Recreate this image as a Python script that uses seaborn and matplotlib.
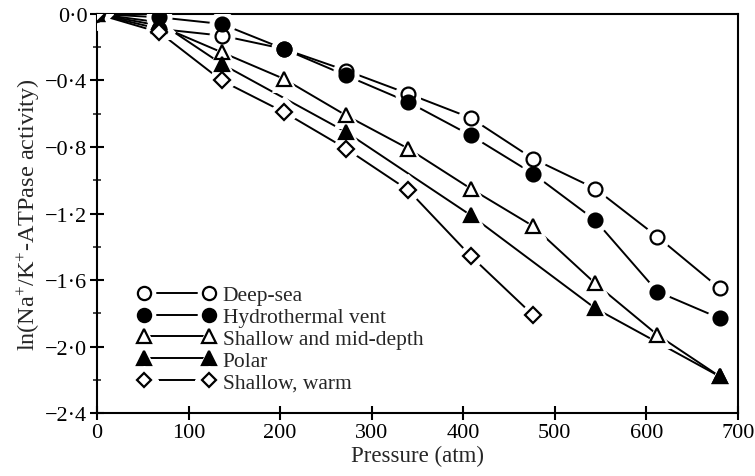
import matplotlib
matplotlib.use("Agg")
import matplotlib.pyplot as plt
from matplotlib.lines import Line2D
from matplotlib.legend_handler import HandlerTuple
from matplotlib.ticker import MultipleLocator, FixedLocator, FixedFormatter
import seaborn as sns
import pandas as pd

pressure = [0, 68, 136, 204, 272, 340, 408, 476, 544, 612, 680]
polar_pressure = [0, 68, 136, 272, 408, 544, 680]
warm_pressure = [0, 68, 136, 204, 272, 340, 408, 476]

deep_sea = [0.0, -0.09, -0.13, -0.21, -0.34, -0.48, -0.625, -0.87, -1.05, -1.34, -1.65]
hydrothermal = [0.0, -0.02, -0.06, -0.21, -0.37, -0.53, -0.73, -0.96, -1.24, -1.67, -1.83]
shallow_mid = [0.0, -0.07, -0.23, -0.39, -0.61, -0.81, -1.05, -1.275, -1.62, -1.93, -2.18]
polar = [0.0, -0.05, -0.30, -0.71, -1.21, -1.77, -2.18]
shallow_warm = [0.0, -0.11, -0.40, -0.59, -0.81, -1.06, -1.455, -1.81]

labels = ["Deep-sea", "Hydrothermal vent", "Shallow and mid-depth", "Polar", "Shallow, warm"]
yticks = [0.0, -0.4, -0.8, -1.2, -1.6, -2.0, -2.4]
ytick_labels = ["0·0", "−0·4", "−0·8", "−1·2", "−1·6", "−2·0", "−2·4"]
xticks = [0, 100, 200, 300, 400, 500, 600, 700]

series = [
    (labels[0], pressure, deep_sea, "o", "white", 10),
    (labels[1], pressure, hydrothermal, "o", "black", 10),
    (labels[2], pressure, shallow_mid, "^", "white", 10),
    (labels[3], polar_pressure, polar, "^", "black", 10),
    (labels[4], warm_pressure, shallow_warm, "D", "white", 8),
]

sns.set_style("ticks")
plt.rcParams["font.family"] = ["Liberation Serif", "DejaVu Serif"]
plt.rcParams["mathtext.fontset"] = "custom"
plt.rcParams["mathtext.rm"] = "Liberation Serif"
plt.rcParams["mathtext.it"] = "Liberation Serif:italic"
plt.rcParams["mathtext.bf"] = "Liberation Serif:bold"

fig = plt.figure(figsize=(7.55, 4.77), dpi=100)
ax = fig.add_axes([0.1285, 0.132, 0.849, 0.8366])

LW = 1.4
handles = []
for name, xs, ys, mk, fc, ms in series:
    df = pd.DataFrame({"x": xs, "y": ys})
    sns.lineplot(data=df, x="x", y="y", color="black", lw=LW, sort=False,
                 ax=ax, zorder=2, legend=False)
for name, xs, ys, mk, fc, ms in series:
    df = pd.DataFrame({"x": xs, "y": ys})
    sns.lineplot(data=df, x="x", y="y", color="white", lw=0, marker=mk,
                 markersize=ms + 8, markerfacecolor="white", markeredgecolor="white",
                 sort=False, ax=ax, zorder=3, legend=False)
for name, xs, ys, mk, fc, ms in series:
    df = pd.DataFrame({"x": xs, "y": ys})
    sns.lineplot(data=df, x="x", y="y", color="black", lw=0, marker=mk,
                 markersize=ms, markerfacecolor=fc, markeredgecolor="black",
                 markeredgewidth=1.6, sort=False, ax=ax, zorder=4, legend=False)
    h_line = Line2D([], [], color="black", lw=LW)
    h_halo = Line2D([], [], lw=0, marker=mk, markersize=ms + 6,
                    markerfacecolor="white", markeredgecolor="white")
    h_mk = Line2D([], [], lw=0, marker=mk, markersize=ms - 0.5, markerfacecolor=fc,
                  markeredgecolor="black", markeredgewidth=1.6)
    handles.append((h_line, h_halo, h_mk))

ax.set_xlim(0, 700)
ax.set_ylim(-2.4, 0.0)
ax.xaxis.set_major_locator(FixedLocator(xticks))
ax.yaxis.set_major_locator(FixedLocator(yticks))
ax.yaxis.set_major_formatter(FixedFormatter(ytick_labels))
ax.yaxis.set_minor_locator(MultipleLocator(0.2))
ax.tick_params(axis="both", which="major", direction="inout", length=10, width=1.5,
               labelsize=16, colors="black", pad=2)
ax.tick_params(axis="y", which="minor", direction="inout", length=6, width=1.2)
for s in ax.spines.values():
    s.set_linewidth(1.5)
    s.set_color("black")

ax.set_xlabel("Pressure (atm)", fontsize=16.5, labelpad=2)
ax.set_ylabel("ln(Na$^{+}$/K$^{+}$-ATPase activity)", fontsize=17.5, labelpad=2)

leg = ax.legend(handles, labels, handler_map={tuple: HandlerTuple(ndivide=1)},
                numpoints=2, handlelength=3.6, handletextpad=0.35, labelspacing=0.08,
                frameon=False, fontsize=15.5, loc="lower left",
                bbox_to_anchor=(0.05, 0.03), borderaxespad=0)

fig.savefig("out.png", dpi=100)
